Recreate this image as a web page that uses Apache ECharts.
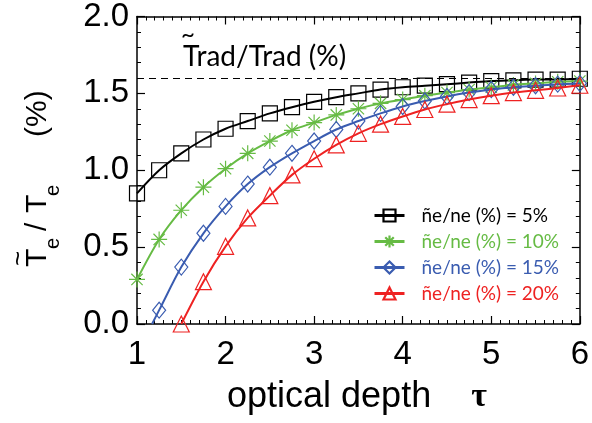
<!DOCTYPE html>
<html>
<head>
<meta charset="utf-8">
<script src="https://cdn.jsdelivr.net/npm/echarts@6/dist/echarts.min.js"></script>
<style>
html,body{margin:0;padding:0;background:#fff;}
#chart{width:592px;height:423px;}
</style>
</head>
<body>
<div id="chart"></div>
<script>
// ---- data ----
const tau = [1, 1.25, 1.5, 1.75, 2, 2.25, 2.5, 2.75, 3, 3.25, 3.5, 3.75, 4, 4.25, 4.5, 4.75, 5, 5.25, 5.5, 5.75, 6];
const ne5  = [0.85, 1.00, 1.11, 1.20, 1.27, 1.32, 1.37, 1.41, 1.445, 1.475, 1.50, 1.525, 1.54, 1.55, 1.56, 1.57, 1.58, 1.585, 1.59, 1.59, 1.595];
const ne10 = [0.29, 0.55, 0.74, 0.89, 1.01, 1.11, 1.19, 1.26, 1.31, 1.36, 1.40, 1.435, 1.46, 1.485, 1.505, 1.525, 1.54, 1.555, 1.565, 1.575, 1.58];
const ne15 = [null, 0.09, 0.37, 0.59, 0.765, 0.91, 1.02, 1.11, 1.19, 1.265, 1.32, 1.37, 1.415, 1.45, 1.48, 1.505, 1.525, 1.54, 1.55, 1.56, 1.565];
const ne20 = [null, null, 0.0, 0.275, 0.505, 0.69, 0.835, 0.97, 1.075, 1.165, 1.24, 1.30, 1.35, 1.395, 1.43, 1.46, 1.485, 1.505, 1.52, 1.535, 1.553];
// point where the 15% curve crosses zero (no marker)
const start15 = [1.17, 0];
const tradLevel = 1.6;
const xTicks = [1, 2, 3, 4, 5, 6];
const seriesNames = ['ñe/ne (%) = 5%', 'ñe/ne (%) = 10%', 'ñe/ne (%) = 15%', 'ñe/ne (%) = 20%'];
const colors = ['#000000', '#66bb44', '#3a5cb0', '#ee2222'];

function pts(vals, startPt) {
  const out = [];
  if (startPt) out.push({ value: startPt, symbol: 'none' });
  tau.forEach((t, i) => { if (vals[i] !== null) out.push([t, vals[i]]); });
  return out;
}

const asterisk = 'path://M0,-10L0,10M-10,0L10,0M-7.07,-7.07L7.07,7.07M-7.07,7.07L7.07,-7.07';
const symbols = ['rect', asterisk, 'diamond', 'triangle'];
const symSizes = [15, 16, [13, 16], 16];
const datasets = [pts(ne5), pts(ne10), pts(ne15, start15), pts(ne20)];

const series = datasets.map((d, i) => {
  const s = {
    name: seriesNames[i],
    type: 'line',
    data: d,
    smooth: 0.3,
    symbol: symbols[i],
    symbolSize: symSizes[i],
    showAllSymbol: true,
    clip: true,
    lineStyle: { color: colors[i], width: 2 },
    itemStyle: { color: 'rgba(0,0,0,0)', borderColor: colors[i], borderWidth: 1.2 },
    emphasis: { disabled: true },
    z: 3 + i
  };
  if (i === 0) {
    s.markLine = {
      silent: true,
      symbol: 'none',
      label: { show: false },
      lineStyle: { type: [7, 5], color: '#000', width: 1 },
      data: [{ yAxis: tradLevel }]
    };
  }
  return s;
});

const axisCommon = {
  type: 'value',
  axisLine: { show: true, onZero: false, lineStyle: { color: '#000', width: 1.5 } },
  axisTick: { show: true, inside: true, length: 8, lineStyle: { color: '#000', width: 1.2 } },
  minorTick: { show: true, length: 4, lineStyle: { color: '#000', width: 1 } },
  splitLine: { show: false },
  minorSplitLine: { show: false }
};

const chart = echarts.init(document.getElementById('chart'), null, { renderer: 'canvas' });
chart.setOption({
  animation: false,
  backgroundColor: '#fff',
  grid: { left: 137, right: 10, top: 13, bottom: 99 },
  xAxis: [
    Object.assign({}, axisCommon, {
      position: 'bottom', min: 1, max: 6, interval: 1,
      minorTick: Object.assign({}, axisCommon.minorTick, { splitNumber: 10 }),
      axisLabel: {
        color: '#000', fontSize: 33, fontFamily: 'Liberation Sans', margin: 14,
        formatter: v => (xTicks.indexOf(v) >= 0 ? String(v) : '')
      }
    }),
    Object.assign({}, axisCommon, {
      position: 'top', min: 1, max: 6, interval: 1,
      minorTick: Object.assign({}, axisCommon.minorTick, { splitNumber: 10 }),
      axisLabel: { show: false }
    })
  ],
  yAxis: [
    Object.assign({}, axisCommon, {
      position: 'left', min: 0, max: 2, interval: 0.5,
      minorTick: Object.assign({}, axisCommon.minorTick, { splitNumber: 5 }),
      axisLabel: {
        color: '#000', fontSize: 33, fontFamily: 'Liberation Sans', margin: 8,
        formatter: v => v.toFixed(1)
      }
    }),
    Object.assign({}, axisCommon, {
      position: 'right', min: 0, max: 2, interval: 0.5,
      minorTick: Object.assign({}, axisCommon.minorTick, { splitNumber: 5 }),
      axisLabel: { show: false }
    })
  ],
  legend: {
    orient: 'vertical',
    left: 368,
    top: 201,
    itemWidth: 30,
    itemHeight: 15,
    itemGap: 7,
    selectedMode: false,
    data: seriesNames.map((n, i) => ({
      name: n,
      lineStyle: { width: 3 },
      itemStyle: { borderWidth: 2.2 },
      textStyle: { color: colors[i], fontSize: 19, fontFamily: 'Lato', padding: [0, 0, 0, 12] }
    }))
  },
  graphic: [
    {
      type: 'text', left: 183, top: 43, z: 10,
      style: { text: 'Trad/Trad (%)', fontSize: 28, fontFamily: 'Lato', fill: '#000' }
    },
    {
      type: 'text', left: 181, top: 22, z: 10,
      style: { text: '~', fontSize: 24, fontFamily: 'Lato', fill: '#000' }
    },
    {
      type: 'group', x: 48, y: 267, rotation: Math.PI / 2,
      children: [
        { type: 'text', x: 0, y: -10, style: { text: 'T', fontSize: 30, fontFamily: 'Liberation Sans', fill: '#000', verticalAlign: 'middle' } },
        { type: 'text', x: 1, y: -29, style: { text: '~', fontSize: 26, fontFamily: 'Liberation Sans', fill: '#000', verticalAlign: 'middle' } },
        { type: 'text', x: 18, y: 5, style: { text: 'e', fontSize: 20, fontFamily: 'Liberation Sans', fill: '#000', verticalAlign: 'middle' } },
        { type: 'text', x: 36, y: -10, style: { text: '/', fontSize: 30, fontFamily: 'Liberation Sans', fill: '#000', verticalAlign: 'middle' } },
        { type: 'text', x: 54, y: -10, style: { text: 'T', fontSize: 30, fontFamily: 'Liberation Sans', fill: '#000', verticalAlign: 'middle' } },
        { type: 'text', x: 71, y: 5, style: { text: 'e', fontSize: 20, fontFamily: 'Liberation Sans', fill: '#000', verticalAlign: 'middle' } },
        { type: 'text', x: 130, y: -10, style: { text: '(%)', fontSize: 30, fontFamily: 'Liberation Sans', fill: '#000', verticalAlign: 'middle' } }
      ]
    },
    {
      type: 'text', left: 227, top: 379, z: 10,
      style: {
        text: '{a|optical depth}{b|τ}',
        rich: {
          a: { fontSize: 36, fontFamily: 'Liberation Sans', fill: '#000', padding: [0, 40, 0, 0] },
          b: { fontSize: 34, fontFamily: 'Liberation Serif', fontWeight: 'bold', fill: '#000' }
        }
      }
    }
  ],
  series: series
});
</script>
</body>
</html>
